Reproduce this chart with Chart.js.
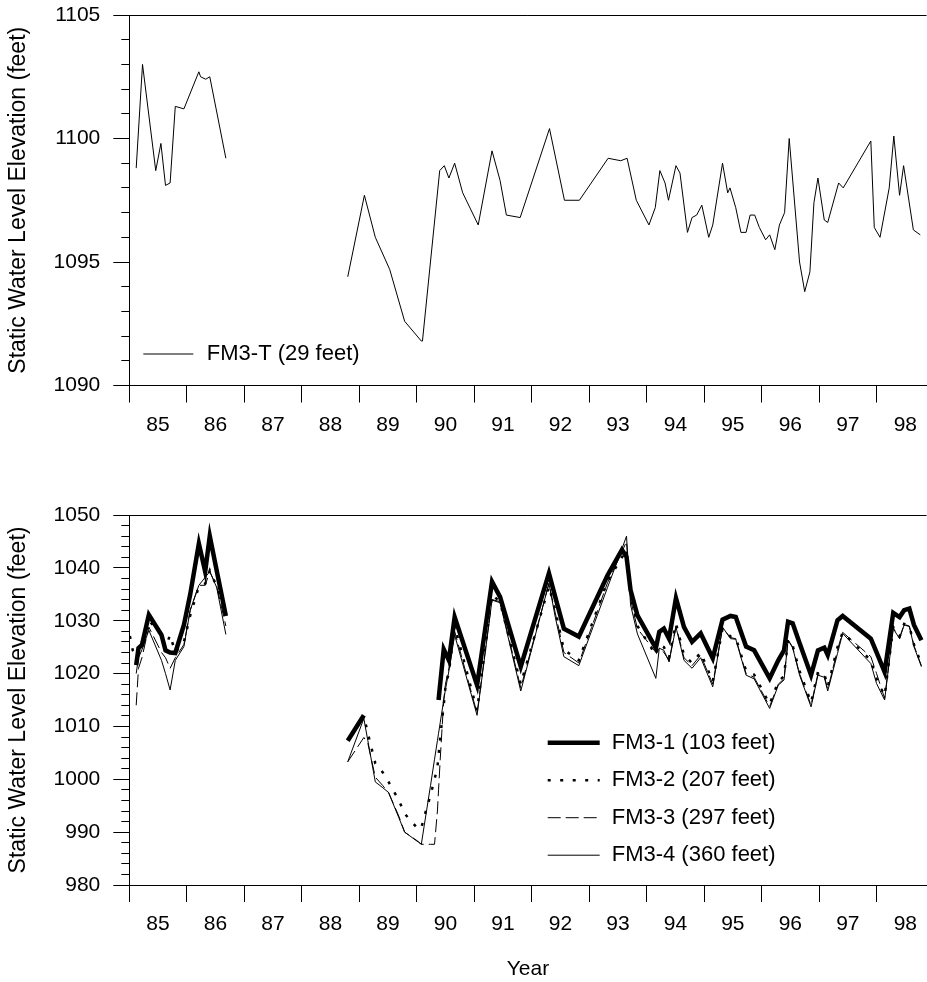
<!DOCTYPE html>
<html>
<head>
<meta charset="utf-8">
<script src="https://cdn.jsdelivr.net/npm/chart.js@4.4.1/dist/chart.umd.min.js"></script>
<style>
  html, body { margin: 0; padding: 0; background: #fff; }
  #page { position: relative; width: 927px; height: 982px; }
  .panel { position: absolute; left: 0; width: 927px; }
  #top-panel { top: 0; height: 450px; }
  #bottom-panel { top: 450px; height: 532px; }
</style>
</head>
<body>
<div id="page">
  <div class="panel" id="top-panel"><canvas id="topChart"></canvas></div>
  <div class="panel" id="bottom-panel"><canvas id="bottomChart"></canvas></div>
</div>
<script>
// Year tick labels (one per year, printed in the middle of the year)
const firstYear = 1985;
const yearLabels = ["85", "86", "87", "88", "89", "90", "91", "92", "93", "94", "95", "96", "97", "98"];

// FM3-T (29 feet), decimal years and elevation (null = no record)
const fm3tDates = [
  1985.12, 1985.23, 1985.46, 1985.55, 1985.63, 1985.71, 1985.80, 1985.95, 1986.21, 1986.24, 1986.33, 1986.40, 1986.68,
  1987.70,
  1988.80, 1989.09, 1989.28, 1989.53, 1989.79, 1990.08, 1990.10,
  1990.40, 1990.48, 1990.56, 1990.66, 1990.80,
  1991.07, 1991.31, 1991.45, 1991.56, 1991.80,
  1992.31, 1992.57, 1992.83,
  1993.33, 1993.55, 1993.66, 1993.82,
  1994.04, 1994.15, 1994.23, 1994.32, 1994.38, 1994.51, 1994.58, 1994.71, 1994.79, 1994.87, 1994.96,
  1995.08, 1995.15, 1995.32, 1995.41, 1995.45, 1995.55, 1995.64, 1995.73, 1995.80, 1995.88, 1995.96,
  1996.07, 1996.14, 1996.23, 1996.31, 1996.40, 1996.48, 1996.66, 1996.75, 1996.84, 1996.91, 1996.98,
  1997.09, 1997.15, 1997.34, 1997.42, 1997.90, 1997.96,
  1998.06, 1998.22, 1998.30, 1998.40, 1998.47, 1998.64, 1998.76
];
const fm3tLevels = [
  1098.8, 1103.0, 1098.7, 1099.8, 1098.1, 1098.2, 1101.3, 1101.2, 1102.7, 1102.5, 1102.4, 1102.5, 1099.2,
  null,
  1094.4, 1097.7, 1096.0, 1094.7, 1092.6, 1091.8, 1091.8,
  1098.7, 1098.9, 1098.4, 1099.0, 1097.8,
  1096.5, 1099.5, 1098.3, 1096.9, 1096.8,
  1100.4, 1097.5, 1097.5,
  1099.2, 1099.1, 1099.2, 1097.5,
  1096.5, 1097.2, 1098.7, 1098.2, 1097.5, 1098.9, 1098.6, 1096.2, 1096.8, 1096.9, 1097.3,
  1096.0, 1096.5, 1099.0, 1097.8, 1098.0, 1097.2, 1096.2, 1096.2, 1096.9, 1096.9, 1096.4,
  1095.9, 1096.1, 1095.5, 1096.5, 1097.0, 1100.0, 1095.0, 1093.8, 1094.6, 1097.4, 1098.4,
  1096.7, 1096.6, 1098.2, 1098.0, 1099.9, 1096.4,
  1096.0, 1098.0, 1100.1, 1097.7, 1098.9, 1096.3, 1096.1
];

// FM3-1 .. FM3-4, shared measurement dates
const wellDates = [
  1985.01, 1985.06, 1985.12, 1985.16, 1985.22, 1985.34, 1985.56, 1985.63, 1985.71, 1985.80, 1985.95, 1986.06, 1986.21, 1986.32, 1986.40, 1986.52, 1986.68,
  1987.50,
  1988.80, 1989.08, 1989.15, 1989.28, 1989.41, 1989.51, 1989.69, 1989.79, 1990.03, 1990.08, 1990.13, 1990.24, 1990.31, 1990.36, 1990.38, 1990.41, 1990.47, 1990.50, 1990.56,
  1990.66,
  1991.05, 1991.31, 1991.45, 1991.81,
  1992.30, 1992.41, 1992.56, 1992.82,
  1993.32, 1993.57, 1993.65, 1993.72, 1993.84,
  1994.16, 1994.22, 1994.30, 1994.39, 1994.51, 1994.65, 1994.79, 1994.94,
  1995.15, 1995.32, 1995.46, 1995.55, 1995.73, 1995.87,
  1996.14, 1996.29, 1996.39, 1996.46, 1996.54, 1996.66, 1996.86, 1996.98,
  1997.09, 1997.15, 1997.32, 1997.41, 1997.90,
  1998.00, 1998.14, 1998.29, 1998.40, 1998.48, 1998.57, 1998.65, 1998.78
];
const fm31Levels = [
  null, null, 1021.6, 1024.8, 1025.4, 1031.1, 1027.3, 1024.4, 1024.0, 1023.9, 1029.2, 1035.0, 1044.6, 1039.3, 1046.0, 1039.5, 1030.9,
  null,
  1007.3, 1012.1, null, null, null, null, null, null, null, null, null, null, null, null, 1015.0, 1018.2, 1024.6, 1023.9, 1022.5,
  1030.7,
  1017.8, 1037.4, 1034.5, 1021.3,
  1039.0, 1034.5, 1028.5, 1027.0,
  1038.6, 1043.4, 1042.1, 1035.8, 1031.0,
  1024.8, 1027.9, 1028.5, 1026.6, 1034.3, 1028.8, 1026.0, 1027.6,
  1022.9, 1030.2, 1030.9, 1030.7, 1025.1, 1024.4,
  1019.1, 1022.5, 1024.4, 1029.8, 1029.5, 1025.8, 1019.7, 1024.4,
  1024.9, 1023.5, 1030.1, 1030.9, 1026.6,
  1024.0, 1020.3, 1031.5, 1030.7, 1032.0, 1032.3, 1029.2, 1026.3
];
const fm32Levels = [
  1027.1, 1024.4, 1023.2, 1024.5, 1026.0, 1030.0, 1027.5, 1025.0, 1027.3, 1024.0, 1026.0, 1031.0, 1036.5, 1037.0, 1039.5, 1036.5, 1032.0,
  null,
  1007.5, 1012.0, 1008.7, 1003.0, 1001.3, 999.5, 996.0, 993.5, 990.5, 990.8, 992.9, 997.0, 1000.0, 1002.3, 1004.5, 1008.0, 1014.0, 1017.5, 1020.3,
  1029.0,
  1013.0, 1035.0, 1033.5, 1018.0,
  1036.5, 1032.0, 1024.5, 1022.5,
  1037.5, 1042.0, 1043.5, 1035.0, 1029.0,
  1023.5, 1025.5, 1025.0, 1023.0, 1029.5, 1023.5, 1022.0, 1024.0,
  1018.5, 1028.5, 1027.0, 1026.8, 1020.5, 1019.8,
  1014.2, 1018.5, 1019.5, 1026.5, 1025.3, 1020.5, 1014.5, 1020.3,
  1020.0, 1017.5, 1025.0, 1027.8, 1022.5,
  1019.0, 1015.8, 1028.8, 1027.0, 1029.4, 1029.0, 1025.5, 1021.8
];
const fm33Levels = [
  null, null, 1014.0, 1021.0, 1023.0, 1028.8, 1024.0, 1023.0, 1021.0, 1023.0, 1025.5, 1032.0, 1036.7, 1036.7, 1039.3, 1036.5, 1029.0,
  null,
  1003.3, 1007.9, 1006.8, 1000.4, 998.8, 997.5, 993.0, 990.0, 988.2, 987.7, 987.7, 987.7, 987.7, 994.0, 998.0, 1004.0, 1015.0, 1018.0, 1021.0,
  1028.0,
  1012.5, 1034.0, 1033.6, 1017.3,
  1037.0, 1031.5, 1024.0, 1022.0,
  1037.2, 1043.0, 1045.0, 1034.0, 1028.5,
  1024.0, 1024.8, 1024.0, 1022.5, 1029.0, 1023.0, 1021.5, 1023.5,
  1018.0, 1028.6, 1026.8, 1026.6, 1020.0, 1019.3,
  1013.8, 1018.0, 1019.0, 1026.4, 1025.0, 1020.0, 1014.0, 1020.0,
  1019.6, 1017.0, 1024.5, 1027.8, 1023.2,
  1020.0, 1015.3, 1028.6, 1026.8, 1029.3, 1029.0, 1025.3, 1021.5
];
const fm34Levels = [
  null, null, 1020.0, 1023.0, 1024.5, 1028.2, 1022.5, 1020.0, 1016.9, 1022.5, 1025.1, 1032.0, 1036.7, 1038.2, 1039.3, 1036.3, 1027.4,
  null,
  1003.3, 1011.5, 1007.3, 999.5, 998.4, 997.5, 992.7, 990.0, 988.1, 987.7, 991.2, 998.8, 1003.8, 1007.3, 1008.7, 1010.8, 1015.0, 1017.0, 1020.5,
  1027.3,
  1012.1, 1033.9, 1033.4, 1016.7,
  1037.1, 1030.7, 1023.2, 1021.5,
  1036.3, 1043.6, 1046.0, 1033.0, 1027.5,
  1019.1, 1024.8, 1024.4, 1022.2, 1028.8, 1022.5, 1021.0, 1023.0,
  1017.5, 1028.8, 1026.6, 1026.5, 1019.7, 1019.0,
  1013.4, 1017.8, 1018.8, 1026.3, 1024.9, 1019.7, 1013.7, 1019.7,
  1019.3, 1016.7, 1023.8, 1027.6, 1021.9,
  1018.1, 1015.0, 1028.5, 1026.6, 1029.2, 1028.9, 1025.1, 1021.3
];

const FONT = "'Liberation Sans', Arial, Helvetica, sans-serif";
Chart.defaults.font.family = FONT;
Chart.defaults.font.size = 21;
Chart.defaults.color = "#000";

const toPoints = (xs, ys) => xs.map((x, i) => ({ x, y: ys[i] }));

// ticks at year boundaries (marks) and mid-year (labels)
function yearTicks(scale) {
  const ticks = [];
  yearLabels.forEach((_, i) => {
    ticks.push({ value: firstYear + i });
    ticks.push({ value: firstYear + i + 0.5 });
  });
  scale.ticks = ticks;
}
function yearLabel(value) {
  if (Number.isInteger(value)) return "";
  return yearLabels[Math.floor(value) - firstYear];
}

// fixed width for the left axes, no extra vertical padding for the end labels
function fixLeftAxis(width) {
  return (s) => {
    s.width = width;
    s.paddingTop = 0;
    s.paddingBottom = 0;
  };
}

// top frame line
const frameTop = {
  id: "frameTop",
  afterDraw(chart) {
    const { ctx, chartArea } = chart;
    ctx.save();
    ctx.strokeStyle = "#000";
    ctx.lineWidth = 1;
    ctx.beginPath();
    ctx.moveTo(chartArea.left, Math.round(chartArea.top) + 0.5);
    ctx.lineTo(chartArea.right, Math.round(chartArea.top) + 0.5);
    ctx.stroke();
    ctx.restore();
  },
};

// legend drawn inside the plot area
const lineLegend = {
  id: "lineLegend",
  afterDraw(chart, args, opts) {
    const { ctx, chartArea } = chart;
    ctx.save();
    chart.data.datasets.forEach((ds, i) => {
      const y = chartArea.top + opts.top + i * opts.spacing;
      const x0 = chartArea.left + opts.left;
      ctx.strokeStyle = ds.borderColor;
      ctx.lineWidth = ds.borderWidth;
      ctx.setLineDash(ds.borderDash || []);
      ctx.beginPath();
      ctx.moveTo(x0, y);
      ctx.lineTo(x0 + opts.lineLength, y);
      ctx.stroke();
      ctx.setLineDash([]);
      ctx.fillStyle = "#000";
      ctx.font = "22px " + FONT;
      ctx.textBaseline = "middle";
      ctx.fillText(ds.label, x0 + opts.lineLength + opts.gap, y);
    });
    ctx.restore();
  },
};

function makeScales(yMin, yMax, major, minor, xHeight, showYear) {
  return {
    x: {
      type: "linear",
      min: firstYear,
      max: 1998.87,
      afterBuildTicks: yearTicks,
      afterFit: (s) => { s.height = xHeight; },
      ticks: { autoSkip: false, maxRotation: 0, padding: 10, callback: yearLabel },
      grid: {
        drawOnChartArea: false,
        tickLength: 17,
        tickColor: (c) => (c.tick && Number.isInteger(c.tick.value) ? "#000" : "rgba(0,0,0,0)"),
      },
      border: { color: "#000", width: 1 },
      title: { display: showYear, text: "Year", font: { size: 21 }, padding: { top: 0, bottom: 0 } },
    },
    y: {
      position: "left",
      weight: 1,
      min: yMin,
      max: yMax,
      afterFit: fixLeftAxis(129.3),
      ticks: { stepSize: major, padding: 13, callback: (v) => String(v) },
      grid: { drawOnChartArea: false, tickLength: 16, tickColor: "#000" },
      border: { color: "#000", width: 1 },
      title: {
        display: true,
        text: "Static Water Level Elevation (feet)",
        font: { size: 23 },
        padding: { top: 5, bottom: 0 },
      },
    },
    yMinor: {
      position: "left",
      weight: 0,
      min: yMin,
      max: yMax,
      afterFit: fixLeftAxis(0),
      ticks: { display: false, stepSize: minor },
      grid: { drawOnChartArea: false, tickLength: 8, tickColor: "#000" },
      border: { display: false },
    },
  };
}

const lineDefaults = { pointRadius: 0, tension: 0, fill: false, spanGaps: false, borderColor: "#000" };

new Chart(document.getElementById("topChart"), {
  type: "line",
  data: {
    datasets: [
      { ...lineDefaults, label: "FM3-T (29 feet)", data: toPoints(fm3tDates, fm3tLevels), borderWidth: 1 },
    ],
  },
  options: {
    responsive: true,
    maintainAspectRatio: false,
    animation: false,
    devicePixelRatio: 1,
    layout: { padding: { top: 15, left: 0, right: 0, bottom: 0 } },
    scales: makeScales(1090, 1105, 5, 1, 64.5, false),
    plugins: {
      legend: { display: false },
      tooltip: { enabled: false },
      lineLegend: { left: 14, top: 339, spacing: 37.5, lineLength: 50, gap: 13.5 },
    },
  },
  plugins: [frameTop, lineLegend],
});

new Chart(document.getElementById("bottomChart"), {
  type: "line",
  data: {
    datasets: [
      { ...lineDefaults, label: "FM3-1 (103 feet)", data: toPoints(wellDates, fm31Levels), borderWidth: 4.5 },
      { ...lineDefaults, label: "FM3-2 (207 feet)", data: toPoints(wellDates, fm32Levels), borderWidth: 2.5, borderDash: [3, 9.5] },
      { ...lineDefaults, label: "FM3-3 (297 feet)", data: toPoints(wellDates, fm33Levels), borderWidth: 1, borderDash: [13, 5] },
      { ...lineDefaults, label: "FM3-4 (360 feet)", data: toPoints(wellDates, fm34Levels), borderWidth: 1 },
    ],
  },
  options: {
    responsive: true,
    maintainAspectRatio: false,
    animation: false,
    devicePixelRatio: 1,
    layout: { padding: { top: 65, left: 0, right: 0, bottom: 0 } },
    scales: makeScales(980, 1050, 10, 2, 97, true),
    plugins: {
      legend: { display: false },
      tooltip: { enabled: false },
      lineLegend: { left: 418.4, top: 227.7, spacing: 37.5, lineLength: 52, gap: 12 },
    },
  },
  plugins: [frameTop, lineLegend],
});
</script>
</body>
</html>
